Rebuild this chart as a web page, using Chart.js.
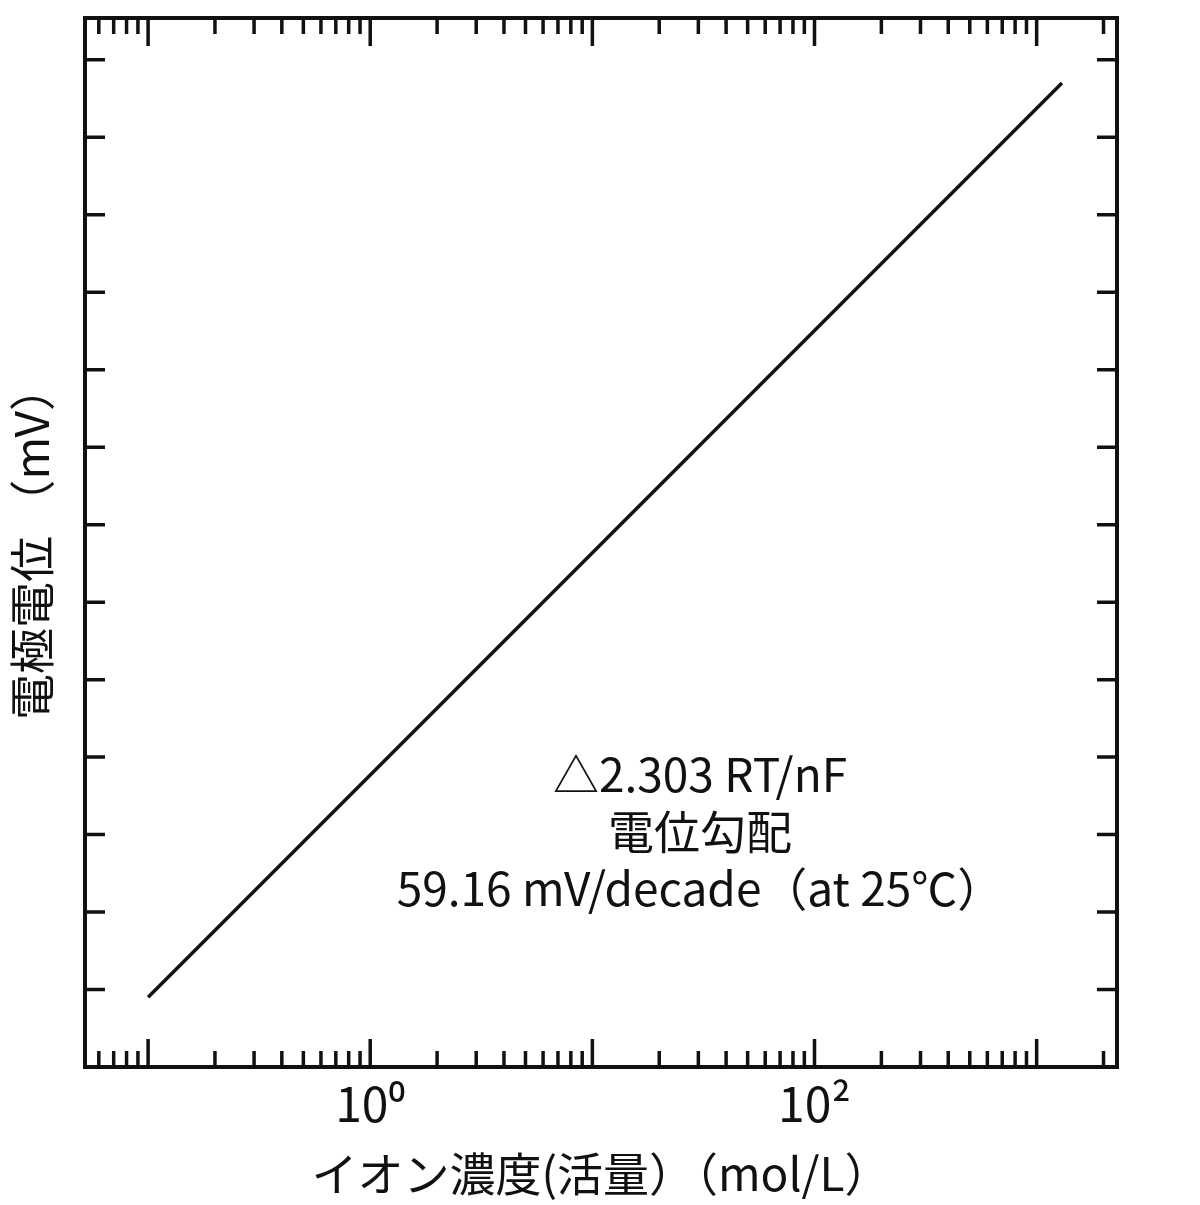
<!DOCTYPE html>
<html lang="ja">
<head>
<meta charset="UTF-8">
<title>電極電位</title>
<script src="https://cdn.jsdelivr.net/npm/chart.js"></script>
<style>
  body { margin: 0; background: #fff; }
</style>
</head>
<body>
<canvas id="chart" width="1200" height="1205"></canvas>
<script>
// ion activity (mol/L) vs electrode potential (arbitrary units, one tick = 1)
const concentrations = [0.1, 1300];
const potentials = [0.9, 12.7];
const xTickLabels = { 1: '10⁰', 100: '10²' };
const noteLines = ['△2.303 RT/nF', '電位勾配', '59.16 mV/decade（at 25℃）'];

const FONT = '"Noto Sans CJK JP", "Noto Sans", sans-serif';

// inward ticks on all four sides + frame + note
const frameTicks = {
  id: 'frameTicks',
  afterDraw(chart) {
    const ctx = chart.ctx;
    const a = chart.chartArea;
    const x = chart.scales.x, y = chart.scales.y;
    ctx.save();
    ctx.strokeStyle = '#111';
    ctx.lineWidth = 4;
    ctx.strokeRect(a.left, a.top, a.right - a.left, a.bottom - a.top);
    ctx.lineWidth = 3.5;
    for (let d = -2; d <= 4; d++) {
      for (let k = 1; k <= 9; k++) {
        const v = k * Math.pow(10, d);
        if (v < x.min || v > x.max) continue;
        const px = x.getPixelForValue(v);
        const len = k === 1 ? 28 : 16;
        ctx.beginPath();
        ctx.moveTo(px, a.bottom); ctx.lineTo(px, a.bottom - len);
        ctx.moveTo(px, a.top); ctx.lineTo(px, a.top + len);
        ctx.stroke();
      }
    }
    for (let v = 1; v <= 13; v++) {
      const py = y.getPixelForValue(v);
      ctx.beginPath();
      ctx.moveTo(a.left, py); ctx.lineTo(a.left + 20, py);
      ctx.moveTo(a.right, py); ctx.lineTo(a.right - 20, py);
      ctx.stroke();
    }
    ctx.fillStyle = '#111';
    ctx.font = '46px ' + FONT;
    ctx.textAlign = 'center';
    ctx.textBaseline = 'middle';
    noteLines.forEach((t, i) => ctx.fillText(t, 700, 775 + i * 57));
    ctx.restore();
  }
};

new Chart(document.getElementById('chart'), {
  type: 'line',
  data: {
    datasets: [{
      data: concentrations.map((c, i) => ({ x: c, y: potentials[i] })),
      borderColor: '#111',
      borderWidth: 3.5,
      pointRadius: 0,
      tension: 0
    }]
  },
  options: {
    responsive: false,
    animation: false,
    layout: { padding: { top: 18, right: 83, left: 0, bottom: 0 } },
    plugins: { legend: { display: false }, tooltip: { enabled: false } },
    scales: {
      x: {
        type: 'logarithmic',
        min: 0.052,
        max: 2300,
        grid: { display: false, drawTicks: false },
        border: { display: false },
        afterFit(s) { s.height = 138; },
        ticks: {
          autoSkip: false,
          maxRotation: 0,
          padding: 8,
          color: '#111',
          font: { size: 48, family: FONT },
          callback: v => xTickLabels[v] || ''
        },
        title: {
          display: true,
          text: 'イオン濃度(活量）（mol/L）',
          color: '#111',
          font: { size: 46, family: FONT },
          padding: { top: 0 }
        }
      },
      y: {
        min: 0,
        max: 13.54,
        grid: { display: false, drawTicks: false },
        border: { display: false },
        afterFit(s) { s.width = 85; },
        ticks: { display: false, stepSize: 1 },
        title: {
          display: true,
          text: '電極電位 （mV）',
          color: '#111',
          font: { size: 46, family: FONT },
          padding: { bottom: 10 }
        }
      }
    }
  },
  plugins: [frameTicks]
});
</script>
</body>
</html>
